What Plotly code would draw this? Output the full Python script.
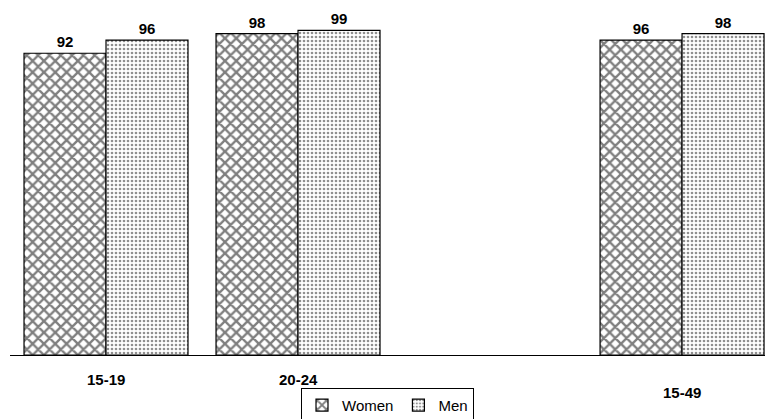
import plotly.graph_objects as go

categories = ["15-19", "20-24", " ", "15-49"]
women = [92, 98, None, 96]
men = [96, 99, None, 98]
label_offsets = [0, 0, 0, 1]  # 15-49 label sits a line lower

FONT = "Liberation Sans, Arial"

fig = go.Figure()
fig.add_trace(go.Bar(
    name="Women", x=categories, y=women,
    marker=dict(color="white", line=dict(color="black", width=1.2),
                pattern=dict(shape="x", size=8, solidity=0.5, fgcolor="black", bgcolor="white")),
    text=women, texttemplate="%{y}", textposition="outside",
    textfont=dict(family=FONT, size=15, color="black", weight="bold"),
    cliponaxis=False,
))
fig.add_trace(go.Bar(
    name="Men", x=categories, y=men,
    marker=dict(color="white", line=dict(color="black", width=1.2),
                pattern=dict(shape=".", size=4, solidity=0.35, fgcolor="#222222", bgcolor="white")),
    text=men, texttemplate="%{y}", textposition="outside",
    textfont=dict(family=FONT, size=15, color="black", weight="bold"),
    cliponaxis=False,
))

for cat, off in zip(categories, label_offsets):
    if cat.strip():
        fig.add_annotation(x=cat, y=0, xref="x", yref="y", yanchor="middle",
                           yshift=-24 - 13 * off, showarrow=False, text=cat,
                           font=dict(family=FONT, size=15, color="black", weight="bold"))

fig.update_layout(
    width=765, height=419,
    margin=dict(l=10, r=0, t=27, b=64, autoexpand=False),
    paper_bgcolor="white", plot_bgcolor="white",
    barmode="group", bargap=0.146, bargroupgap=0,
    showlegend=True,
    legend=dict(orientation="h", x=0.5, xanchor="center", y=-0.1, yanchor="top",
                bordercolor="black", borderwidth=1,
                font=dict(family=FONT, size=15, color="black"),
                itemwidth=30, tracegroupgap=0),
    xaxis=dict(range=[-0.5, 3.432], showline=True, linecolor="black", linewidth=1.2,
               showticklabels=False, ticks="", showgrid=False, zeroline=False, fixedrange=True),
    yaxis=dict(range=[0, 100], visible=False, showgrid=False, zeroline=False),
)

fig.write_html("out.html")
